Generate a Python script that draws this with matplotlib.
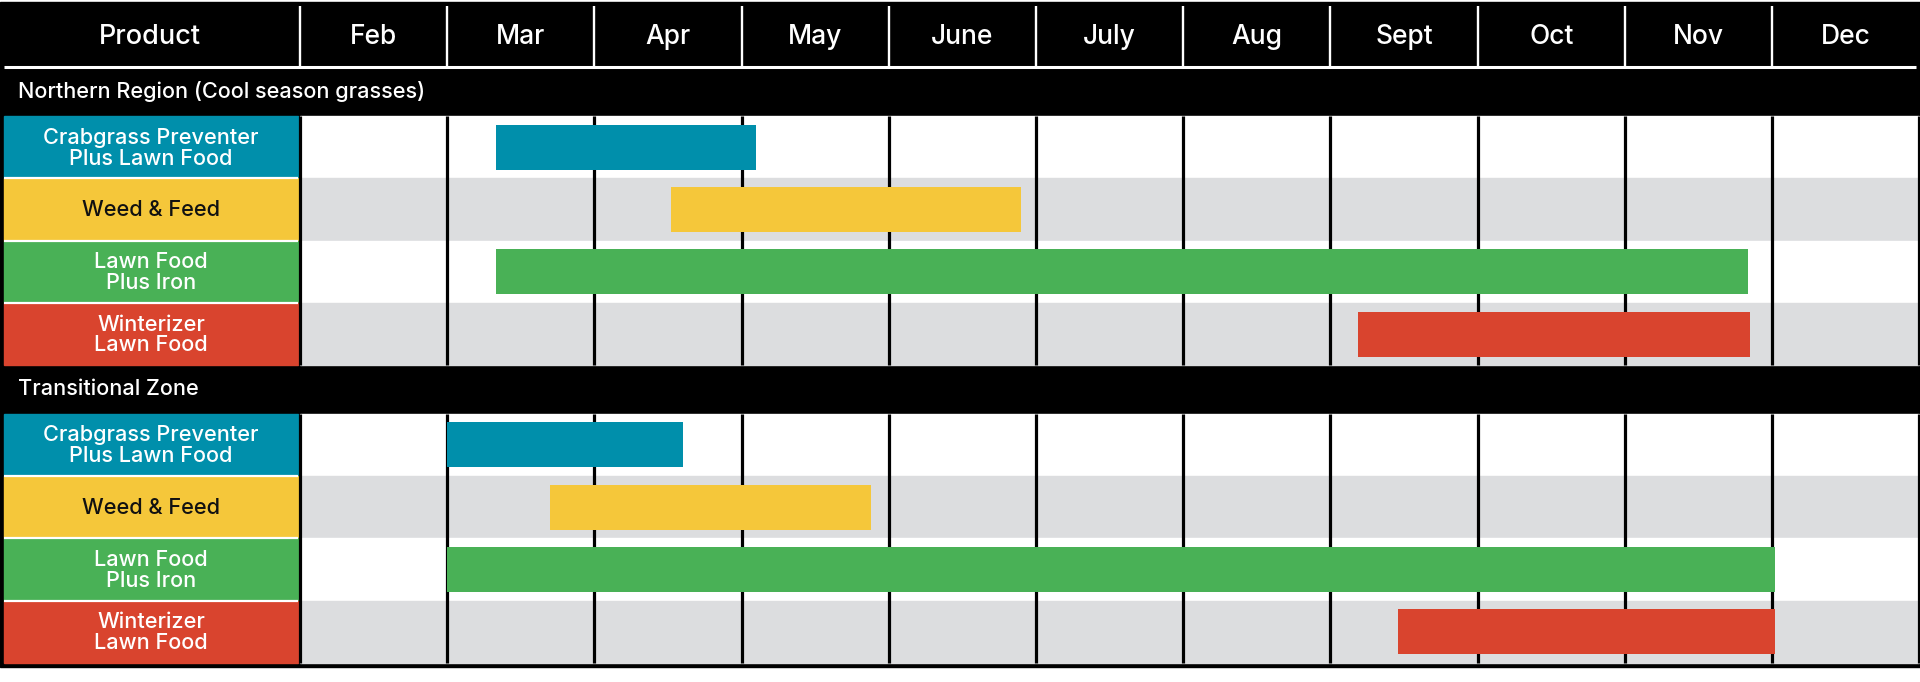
import matplotlib.pyplot as plt
from matplotlib.patches import Rectangle

plt.rcParams["font.family"] = ["Inter", "DejaVu Sans"]

months = ["Feb", "Mar", "Apr", "May", "June", "July", "Aug", "Sept", "Oct", "Nov", "Dec"]
products = ["Crabgrass Preventer\nPlus Lawn Food", "Weed & Feed",
            "Lawn Food\nPlus Iron", "Winterizer\nLawn Food"]
product_colors = ["#008fab", "#f5c73a", "#49b156", "#d9442e"]
label_colors = ["white", "#111111", "white", "white"]
regions = ["Northern Region (Cool season grasses)", "Transitional Zone"]

# application windows, in months counted from the start of Feb
northern_start = [1.33, 2.52, 1.33, 7.19]
northern_end = [3.10, 4.90, 9.84, 9.85]
transitional_start = [1.00, 1.70, 1.00, 7.46]
transitional_end = [2.60, 3.88, 10.02, 10.02]

# layout, in pixels
W, H = 1920, 682
COL_W = 147.2
LEFT_PX = 300
HEADER_TOP, HEADER_BOT = 3, 66.5
BAND_H = 48.5
ROW_H = 62.3
BAR_H = 45
GRAY = "#dcdddf"
WEIGHT = "medium"


def px2x(p):
    return (p - LEFT_PX) / COL_W


fig = plt.figure(figsize=(W / 100, H / 100), dpi=100)
ax = fig.add_axes([0, 0, 1, 1])
ax.set_xlim(px2x(0), px2x(W))
ax.set_ylim(H, 0)
ax.axis("off")

# black frame behind everything
ax.add_patch(Rectangle((px2x(0), 2), px2x(W) - px2x(0), 664.5, color="black", zorder=0))

# header row
header_y = (HEADER_TOP + HEADER_BOT) / 2 + 2
ax.text(px2x(150), header_y, "Product", color="white", fontsize=19.5,
        ha="center", va="center", fontweight=WEIGHT)
for i, m in enumerate(months):
    ax.text(i + 0.5, header_y, m, color="white", fontsize=19,
            ha="center", va="center", fontweight=WEIGHT)
ax.vlines(range(len(months)), 6, HEADER_BOT - 1, color="white", lw=1.7, zorder=3)
ax.hlines(HEADER_BOT, px2x(4), px2x(1916), color="white", lw=2.2, zorder=3)

y = HEADER_BOT + 1
for region, starts, ends in [(regions[0], northern_start, northern_end),
                             (regions[1], transitional_start, transitional_end)]:
    ax.text(px2x(18), y + BAND_H / 2, region, color="white", fontsize=15.6,
            ha="left", va="center", fontweight=WEIGHT)
    top = y + BAND_H
    for i, (name, col, tcol) in enumerate(zip(products, product_colors, label_colors)):
        r0 = top + i * ROW_H
        ax.add_patch(Rectangle((0, r0), len(months), ROW_H,
                               color="white" if i % 2 == 0 else GRAY, zorder=1))
        ax.add_patch(Rectangle((px2x(4), r0), px2x(298) - px2x(4), ROW_H,
                               color=col, zorder=1))
        ax.text(px2x(151), r0 + ROW_H / 2 + 1, name, color=tcol, fontsize=15.6,
                ha="center", va="center", fontweight=WEIGHT, linespacing=1.05, zorder=4)
    # white separators between the product cells
    ax.hlines([top + k * ROW_H for k in range(1, 4)], px2x(4), px2x(298),
              color="white", lw=1.6, zorder=2)
    bottom = top + 4 * ROW_H
    ax.vlines(range(len(months) + 1), top, bottom, color="black", lw=2.3, zorder=2)
    centers = [top + (k + 0.5) * ROW_H for k in range(4)]
    ax.barh(centers, [e - s for s, e in zip(starts, ends)], left=starts,
            height=BAR_H, color=product_colors, zorder=3)
    y = bottom

fig.savefig("out.png", dpi=100)
